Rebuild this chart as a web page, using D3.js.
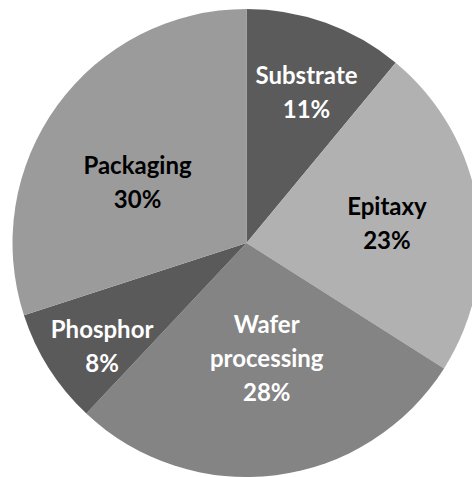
<!DOCTYPE html>
<html>
<head>
<meta charset="utf-8">
<script src="https://cdn.jsdelivr.net/npm/d3@7"></script>
<style>
  body { margin: 0; background: #fff; }
  svg { display: block; }
</style>
</head>
<body>
<svg></svg>
<script>
// data
var categories = ['Substrate', 'Epitaxy', 'Wafer processing', 'Phosphor', 'Packaging'];
var shares = [11, 23, 28, 8, 30];
var labelLines = [['Substrate'], ['Epitaxy'], ['Wafer', 'processing'], ['Phosphor'], ['Packaging']];

// styling
var sliceColors = ['#5b5b5b', '#b1b1b1', '#848484', '#5a5a5a', '#9b9b9b'];
var textColors = ['#ffffff', '#000000', '#ffffff', '#ffffff', '#000000'];
// label placement: distance from centre (fraction of radius) and angle nudge (deg)
var labelRadius = [0.659, 0.602, 0.535, 0.781, 0.515];
var labelNudge = [3.1, 4.5, -2.1, -5.4, -10.7];

var svgWidth = 472, svgHeight = 477;
var svg = d3.select('svg')
    .attr('width', svgWidth)
    .attr('height', svgHeight);

var cx = 246.5, cy = 243, radius = 234;

var pie = d3.pie().sort(null).value(d => d.value);
var rows = categories.map((c, i) => ({ name: c, value: shares[i], lines: labelLines[i], i: i }));
var arcs = pie(rows);

var arc = d3.arc().innerRadius(0).outerRadius(radius);

var g = svg.append('g')
    .attr('transform', 'translate(' + cx + ',' + cy + ')');

g.selectAll('.slice')
    .data(arcs)
    .enter()
    .append('path')
    .attr('class', 'slice')
    .attr('d', arc)
    .attr('fill', d => sliceColors[d.data.i]);

var lineGap = 34;

var labels = g.selectAll('.lbl')
    .data(arcs)
    .enter()
    .append('text')
    .attr('class', 'lbl')
    .attr('text-anchor', 'middle')
    .style('font-family', 'Lato, "Open Sans", sans-serif')
    .style('font-weight', 'bold')
    .style('font-size', '24px')
    .attr('fill', d => textColors[d.data.i])
    .attr('transform', function(d) {
        var a = (d.startAngle + d.endAngle) / 2 + labelNudge[d.data.i] * Math.PI / 180;
        var r = radius * labelRadius[d.data.i];
        return 'translate(' + (r * Math.sin(a)) + ',' + (-r * Math.cos(a)) + ')';
    });

// the transform is the mean baseline of the label's lines
labels.each(function(d) {
    var lines = d.data.lines.concat([Math.round(d.data.value) + '%']);
    var n = lines.length;
    var t = d3.select(this);
    lines.forEach(function(line, k) {
        t.append('tspan')
            .attr('x', 0)
            .attr('y', (k - (n - 1) / 2) * lineGap)
            .text(line);
    });
});
</script>
</body>
</html>
